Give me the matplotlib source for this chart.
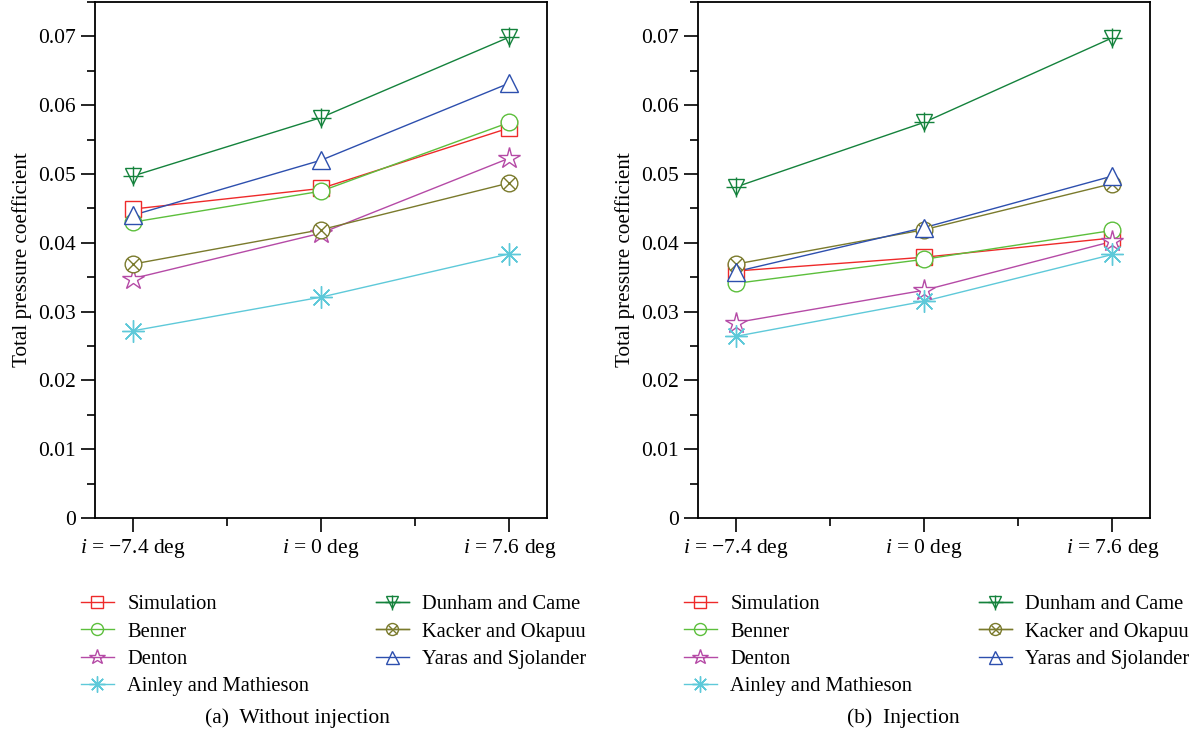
import numpy as np
import matplotlib.pyplot as plt
from matplotlib.lines import Line2D
from matplotlib.ticker import MultipleLocator, FuncFormatter
from matplotlib.legend_handler import HandlerTuple

plt.rcParams['font.family'] = 'Liberation Serif'
plt.rcParams['mathtext.fontset'] = 'custom'
plt.rcParams['mathtext.it'] = 'Liberation Serif:italic'
plt.rcParams['mathtext.rm'] = 'Liberation Serif'

# 攻角
tick_labels = ['$i$ = \u22127.4 deg', '$i$ = 0 deg', '$i$ = 7.6 deg']
names = ['Simulation', 'Benner', 'Denton', 'Ainley and Mathieson',
         'Dunham and Came', 'Kacker and Okapuu', 'Yaras and Sjolander']

# (a) 无喷射
sim_a = [0.0449, 0.0479, 0.0567]
benner_a = [0.0430, 0.0475, 0.0575]
denton_a = [0.0348, 0.0414, 0.0523]
ainley_a = [0.0272, 0.0321, 0.0384]
dunham_a = [0.0497, 0.0582, 0.0699]
kacker_a = [0.0369, 0.0419, 0.0487]
yaras_a = [0.0440, 0.0520, 0.0632]

# (b) 喷射
sim_b = [0.0359, 0.0379, 0.0407]
benner_b = [0.0341, 0.0376, 0.0418]
denton_b = [0.0284, 0.0331, 0.0402]
ainley_b = [0.0264, 0.0315, 0.0383]
dunham_b = [0.0481, 0.0575, 0.0698]
kacker_b = [0.0369, 0.0419, 0.0486]
yaras_b = [0.0358, 0.0422, 0.0497]

colors = ['#ee2a2a', '#5cbf3c', '#b54aa6', '#5ec9d9', '#14823c', '#7a7a2c', '#2d4fae']
# 每条曲线的 marker (可叠加两个)
markers = [[('s', 12)], [('o', 12)], [('*', 16)], [((8, 2, 0), 16)],
           [('v', 12), ('+', 15)], [('o', 12), ('x', 9)], [('^', 13)]]

x = np.arange(3)
fig = plt.figure(figsize=(12.04, 7.38), dpi=100)
W, H = 1204, 738


def draw(ax, series):
    handles = []
    for vals, c, mk in zip(series, colors, markers):
        ax.plot(x, vals, color=c, lw=1.0, zorder=2)
        h = []
        for m, s in mk:
            ax.plot(x, vals, ls='none', marker=m, ms=s, mfc='white' if m in ('s', 'o', '*', 'v', '^') else 'none',
                    mec=c, mew=1.0, zorder=3)
            h.append(Line2D([], [], color=c, lw=1.0, marker=m, ms=s * 0.72, mfc='none', mec=c, mew=1.0))
        handles.append(tuple(h) if len(h) > 1 else h[0])
    ax.set_xlim(-0.2, 2.2)
    ax.set_ylim(0, 0.075)
    ax.set_xticks(x)
    ax.set_xticklabels(tick_labels)
    ax.xaxis.set_minor_locator(MultipleLocator(0.5))
    ax.yaxis.set_major_locator(MultipleLocator(0.01))
    ax.yaxis.set_minor_locator(MultipleLocator(0.005))
    ax.yaxis.set_major_formatter(FuncFormatter(lambda v, p: '0' if abs(v) < 1e-9 else '%.2f' % v))
    ax.tick_params(which='major', direction='out', length=10, width=1.2, labelsize=15.5, pad=4)
    ax.tick_params(which='minor', direction='out', length=6, width=1.2)
    ax.tick_params(axis='x', which='both', top=False)
    ax.tick_params(axis='y', which='both', right=False)
    for s in ax.spines.values():
        s.set_linewidth(1.3)
    ax.set_ylabel('Total pressure coefficient', fontsize=15.2, labelpad=4)
    return handles


for series, x0, cap, capx in [
        ([sim_a, benner_a, denton_a, ainley_a, dunham_a, kacker_a, yaras_a], 95, '(a)  Without injection', 297),
        ([sim_b, benner_b, denton_b, ainley_b, dunham_b, kacker_b, yaras_b], 698, '(b)  Injection', 903)]:
    ax = fig.add_axes([x0 / W, 1 - 518 / H, 452 / W, 516 / H])
    hs = draw(ax, series)
    kw = dict(frameon=False, fontsize=14.8, handlelength=1.6, handletextpad=0.65, labelspacing=0.38,
              borderpad=0, borderaxespad=0, handler_map={tuple: HandlerTuple(ndivide=1)})
    leg1 = ax.legend(hs[:4], names[:4], loc='upper left',
                     bbox_to_anchor=((x0 - 14) / W, 1 - 595 / H), bbox_transform=fig.transFigure, **kw)
    ax.add_artist(leg1)
    ax.legend(hs[4:], names[4:], loc='upper left',
              bbox_to_anchor=((x0 + 281) / W, 1 - 595 / H), bbox_transform=fig.transFigure, **kw)
    fig.text(capx / W, 1 - 718 / H, cap, ha='center', va='center', fontsize=15.5)

fig.savefig('out.png', dpi=100)
